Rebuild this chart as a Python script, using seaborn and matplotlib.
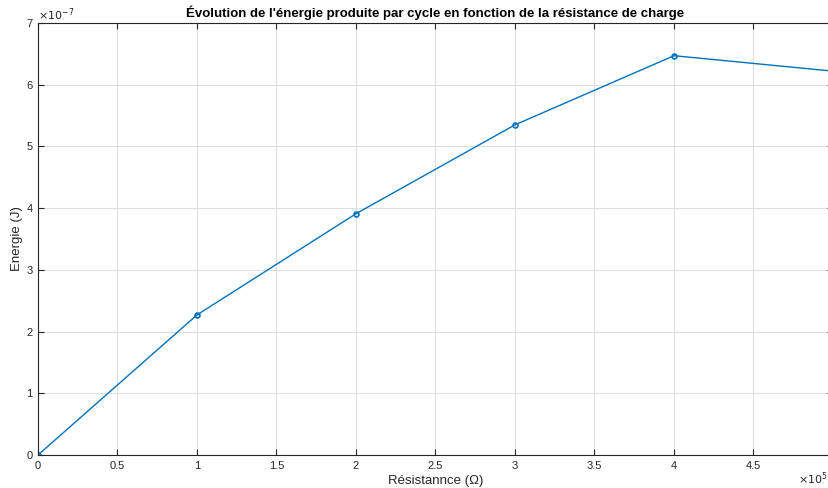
import matplotlib.pyplot as plt
import seaborn as sns
import pandas as pd
from matplotlib.ticker import FuncFormatter

# values
resistance = [0, 1e5, 2e5, 3e5, 4e5, 5e5]
energie = [0, 2.27e-7, 3.91e-7, 5.35e-7, 6.47e-7, 6.22e-7]

df = pd.DataFrame({"R": resistance, "E": energie})

sns.set_theme(style="whitegrid")
plt.rcParams["font.family"] = ["Liberation Sans", "DejaVu Sans"]

fig = plt.figure(figsize=(8.29, 4.88), dpi=100)
ax = fig.add_axes([38 / 829, 33 / 488, 795 / 829, 432 / 488])

sns.lineplot(
    data=df, x="R", y="E", ax=ax,
    color="#0072BD", linewidth=1.0,
    marker="o", markersize=3.5,
    markerfacecolor="none", markeredgecolor="#0072BD", markeredgewidth=1.2,
)

ax.set_xlim(0, 5e5)
ax.set_ylim(0, 7e-7)
ax.set_xticks([i * 0.5e5 for i in range(10)])
ax.set_yticks([i * 1e-7 for i in range(8)])
ax.xaxis.set_major_formatter(FuncFormatter(lambda v, p: f"{v / 1e5:g}"))
ax.yaxis.set_major_formatter(FuncFormatter(lambda v, p: f"{v / 1e-7:g}"))

# MATLAB style exponent labels
ax.text(0.0, 1.0, r"$\times10^{-7}$", transform=ax.transAxes, fontsize=8,
        color="#262626", ha="left", va="bottom")
fig.text(0.999, 0.003, r"$\times10^{5}$", fontsize=8, color="#262626",
         ha="right", va="bottom")

ax.set_facecolor("white")
ax.grid(True, color="#dfdfdf", linewidth=0.8)
for s in ax.spines.values():
    s.set_color("#262626")
    s.set_linewidth(0.8)

ax.tick_params(direction="in", length=4, width=0.8, colors="#262626",
               labelsize=8, top=True, right=True, bottom=True, left=True, pad=4)

ax.set_xlabel("Résistannce (Ω)", fontsize=9.5, color="#262626", labelpad=3)
ax.set_ylabel("Energie (J)", fontsize=9.5, color="#262626", labelpad=2)
ax.set_title("Évolution de l'énergie produite par cycle en fonction de la résistance de charge",
             fontsize=9.5, fontweight="bold", color="black", pad=4)

fig.savefig("out.png", dpi=100)
